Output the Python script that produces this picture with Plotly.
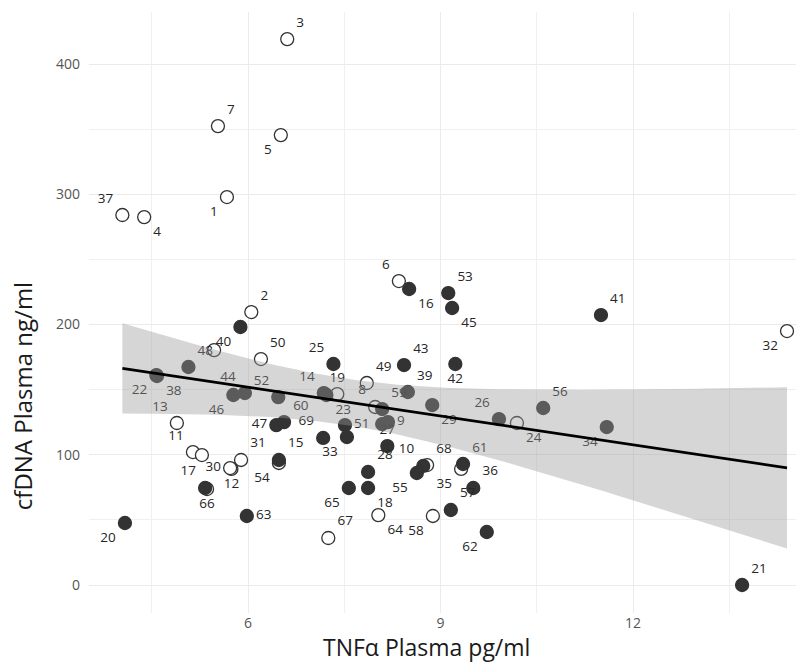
import numpy as np
import plotly.graph_objects as go

# ---- data ----
ids = ["1", "2", "3", "4", "5", "6", "7", "8", "9", "10",
       "11", "12", "13", "14", "15", "16", "17", "18", "19", "20",
       "21", "22", "23", "24", "25", "26", "27", "28", "29", "30",
       "31", "32", "33", "34", "35", "36", "37", "38", "39", "40",
       "", "41", "42", "43", "44", "45", "46", "47", "48", "49",
       "50", "51", "52", "53", "54", "55", "56", "57", "58", "59",
       "60", "61", "62", "63", "64", "65", "66", "67", "68", "69",
       "", ""]
tnf = [5.67, 6.05, 6.61, 4.38, 6.51, 8.35, 5.53, 7.98, 8.18, 8.73,
       5.14, 5.74, 4.89, 7.18, 6.48, 8.51, 5.33, 7.87, 7.39, 4.08,
       13.70, 4.57, 7.22, 10.19, 7.33, 9.91, 8.17, 7.87, 8.87, 5.72,
       5.89, 14.40, 7.54, 11.59, 9.32, 9.51, 4.04, 4.58, 8.49, 5.88,
       5.47, 11.50, 9.23, 8.43, 5.95, 9.18, 5.77, 6.44, 5.07, 7.85,
       6.20, 7.51, 6.47, 9.12, 6.48, 8.63, 10.60, 9.16, 8.88, 8.09,
       6.56, 9.35, 9.72, 5.98, 8.03, 7.57, 5.36, 7.25, 8.79, 7.17,
       5.28, 8.09]
cfdna = [297.9, 209.6, 419.2, 282.5, 345.5, 233.4, 352.4, 136.7, 125.1, 91.4,
         102.1, 89.1, 124.4, 147.4, 96.0, 227.3, 74.5, 74.5, 146.6, 47.6,
         0.0, 161.2, 145.9, 124.4, 169.7, 127.4, 106.7, 86.8, 138.2, 89.8,
         96.0, 195.0, 113.6, 121.3, 89.1, 74.5, 284.1, 160.5, 148.2, 198.1,
         180.4, 207.3, 169.7, 168.9, 147.4, 212.7, 145.9, 122.8, 167.4, 155.1,
         173.5, 122.8, 144.3, 224.2, 93.7, 86.0, 135.9, 57.6, 53.0, 135.1,
         125.1, 92.9, 40.7, 53.0, 53.7, 74.5, 73.7, 36.1, 92.1, 112.9,
         99.8, 123.6]
group = ["o", "o", "o", "o", "o", "o", "o", "o", "f", "f",
         "o", "o", "o", "f", "f", "f", "f", "f", "o", "f",
         "f", "f", "f", "o", "f", "f", "f", "f", "f", "o",
         "o", "o", "f", "f", "o", "f", "o", "f", "f", "f",
         "o", "f", "f", "f", "f", "f", "f", "f", "f", "o",
         "o", "f", "f", "f", "o", "f", "f", "f", "o", "f",
         "f", "f", "f", "f", "o", "f", "o", "o", "o", "f",
         "o", "f"]
y_ticks = [0, 100, 200, 300, 400]
x_ticks = [6, 9, 12]

# label placement (style only)
label_pos = ["bottom left", "top right", "top right", "bottom right", "bottom left",
             "top left", "top right", "top left", "middle right", "top left",
             "top left", "bottom center", "top left", "top left", "top right",
             "bottom right", "top left", "bottom right", "top center", "bottom left",
             "top right", "bottom left", "bottom right", "bottom right", "top left",
             "top left", "top center", "top right", "bottom right", "middle left",
             "top right", "bottom left", "bottom left", "bottom left", "bottom left",
             "top right", "top left", "bottom right", "top right", "bottom left",
             "top right", "top right", "bottom center", "top right", "top left",
             "bottom right", "bottom left", "middle left", "top right", "top right",
             "top right", "middle right", "top left", "top right", "bottom left",
             "bottom left", "top right", "top right", "bottom left", "top right",
             "top right", "top right", "bottom left", "middle right", "bottom right",
             "bottom left", "bottom center", "top right", "top right", "top left",
             "top right", "top right"]

FONT = "Open Sans"
DARK = "#333333"

fig = go.Figure()

for g, fill in (("o", "white"), ("f", DARK)):
    idx = [i for i, gg in enumerate(group) if gg == g]
    fig.add_trace(go.Scatter(
        x=[tnf[i] for i in idx], y=[cfdna[i] for i in idx],
        text=[ids[i] for i in idx], textposition=[label_pos[i] for i in idx],
        mode="markers+text",
        marker=dict(size=13, color=fill, line=dict(color=DARK, width=1.3)),
        textfont=dict(family=FONT, size=13.5, color="#262626"),
        showlegend=False, cliponaxis=False,
    ))

# linear fit with 95% confidence band
x = np.array(tnf)
y = np.array(cfdna)
n = len(x)
b1, b0 = np.polyfit(x, y, 1)
res = y - (b0 + b1 * x)
s = np.sqrt(np.sum(res ** 2) / (n - 2))
xbar = x.mean()
sxx = np.sum((x - xbar) ** 2)
xs = np.linspace(x.min(), x.max(), 100)
yhat = b0 + b1 * xs
se = s * np.sqrt(1.0 / n + (xs - xbar) ** 2 / sxx)
tcrit = 1.994
upper = yhat + tcrit * se
lower = yhat - tcrit * se

fig.add_trace(go.Scatter(
    x=np.concatenate([xs, xs[::-1]]), y=np.concatenate([upper, lower[::-1]]),
    fill="toself", fillcolor="rgba(153,153,153,0.4)", line=dict(width=0),
    mode="lines", showlegend=False, hoverinfo="skip",
))
fig.add_trace(go.Scatter(
    x=xs, y=yhat, mode="lines", line=dict(color="black", width=2.6),
    showlegend=False, hoverinfo="skip",
))

fig.update_layout(
    width=796, height=664,
    margin=dict(l=89, r=0, t=12, b=51),
    paper_bgcolor="white", plot_bgcolor="white",
    font=dict(family=FONT),
    xaxis=dict(range=[3.52, 14.54], tickvals=x_ticks, showline=False, zeroline=False,
               gridcolor="#ebebeb", gridwidth=1.3,
               minor=dict(dtick=1.5, tick0=0, gridcolor="#f0f0f0", gridwidth=0.8, showgrid=True),
               tickfont=dict(family=FONT, size=14, color="#555555"), ticks="",
               ticklabelstandoff=0),
    yaxis=dict(range=[-21.5, 440], tickvals=y_ticks, showline=False, zeroline=False,
               gridcolor="#ebebeb", gridwidth=1.3,
               minor=dict(dtick=50, tick0=0, gridcolor="#f0f0f0", gridwidth=0.8, showgrid=True),
               tickfont=dict(family=FONT, size=14, color="#555555"), ticks="",
               ticklabelstandoff=8),
    annotations=[
        dict(text="TNFα Plasma pg/ml", xref="paper", yref="paper", x=0.477, y=-0.057,
             xanchor="center", yanchor="middle", showarrow=False,
             font=dict(family=FONT, size=23, color="#1a1a1a")),
        dict(text="cfDNA Plasma ng/ml", xref="paper", yref="paper", x=-0.094, y=0.36,
             xanchor="center", yanchor="middle", textangle=-90, showarrow=False,
             font=dict(family=FONT, size=24, color="#1a1a1a")),
    ],
)

fig.write_html("out.html")
